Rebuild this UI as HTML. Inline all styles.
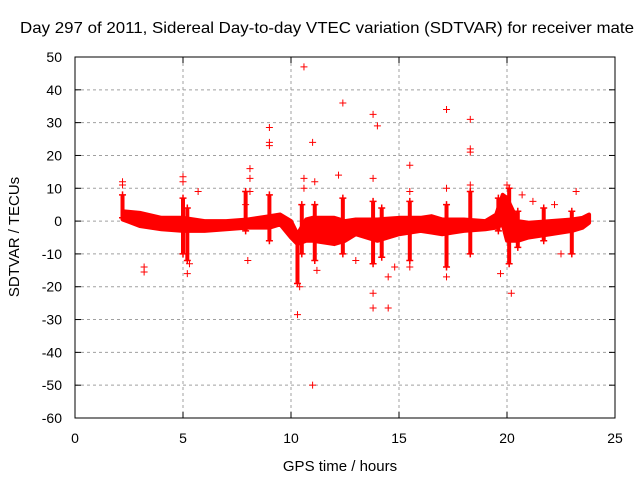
<!DOCTYPE html>
<html><head><meta charset="utf-8"><style>
body{margin:0;background:#fff;}
svg{display:block;font-family:"Liberation Sans",sans-serif;}
</style></head><body>
<svg id="c" width="640" height="480">
<rect width="640" height="480" fill="#fff"/>
<text x="20" y="33" font-size="16" textLength="614" lengthAdjust="spacingAndGlyphs">Day 297 of 2011, Sidereal Day-to-day VTEC variation (SDTVAR) for receiver mate</text>
<text x="340" y="471" font-size="15" text-anchor="middle">GPS time / hours</text>
<text x="19" y="237" font-size="15" text-anchor="middle" transform="rotate(-90 19 237)">SDTVAR / TECUs</text>
<g id="grid"></g><g id="marks"></g><g id="axes"></g>
</svg>
<script>
const xTicks=[0,5,10,15,20,25];
const yTicks=[50,40,30,20,10,0,-10,-20,-30,-40,-50,-60];
const bandT=[2.2,3,4,5,6,7,8,9,9.5,10,10.3,10.7,11,12,12.5,13,14,15,16,16.5,17,17.5,18,19,19.5,19.8,20,20.5,21,22,23,23.5,23.8];
const bandHi=[3,2.5,1,1,0,0,0.5,1.5,2,0,-4,0.5,1,1,0,0.5,0.5,1,1,1.5,0.5,0.5,0.5,0,2,8,7,0,-0.5,0,0.5,1,2];
const bandLo=[0.5,-1.5,-2.5,-3,-3,-2.5,-2,-2,-1,-5,-7,-6,-6,-7,-6,-4,-6,-4,-3,-3.5,-4,-3.5,-3,-2.5,-2,-1,-6,-6,-5,-4,-3,-2,-0.5];
const spikeT=[2.2,5,5.2,7.9,9,10.3,10.5,11.1,12.4,13.8,14.2,15.5,17.2,18.3,19.6,20.1,20.5,21.7,23];
const spikeLo=[1,-10,-12,-3,-6,-19,-10,-12,-10,-13,-11,-12,-14,-10,-3,-13,-8,-6,-10];
const spikeHi=[8,7,4,9,8,-5,5,5,7,6,4,6,5,9,7,10,3,4,3];
const outT=[2.2,2.2,3.2,3.2,5,5,5.2,5.3,5.7,7.9,8.1,8.1,8.1,8,9,9,9,10.3,10.4,10.6,10.6,10.6,11,11,11.1,11.2,12.4,12.2,13.8,14,13.8,13.8,13.8,14.5,14.5,15.5,15.5,17.2,17.2,17.2,18.3,18.3,18.3,18.3,19.7,20,20.2,20.7,21.2,22.2,23.2,22.5,13,14.8,15.5];
const outV=[12,11,-14,-15.5,13.5,12,-16,-13,9,5,16,13,9,-12,28.5,24,23,-28.5,-20,13,10,47,24,-50,12,-15,36,14,32.5,29,13,-22,-26.5,-26.5,-17,17,9,34,10,-17,31,22,21,11,-16,11,-22,8,6,5,9,-10,-12,-14,-14];
const X0=75,X1=615,Y0=418,Y1=57;
const sx=t=>X0+(t-0)/(25-0)*(X1-X0);
const sy=v=>Y0-(v+60)/(110)*(Y0-Y1);
const NS='http://www.w3.org/2000/svg';
function mk(tag,attrs,parent){const e=document.createElementNS(NS,tag);for(const k in attrs)e.setAttribute(k,attrs[k]);parent.appendChild(e);return e;}
const grid=document.getElementById('grid'),marks=document.getElementById('marks'),axes=document.getElementById('axes');
xTicks.forEach(t=>{
 if(t>0&&t<25){const l=mk('line',{x1:sx(t),x2:sx(t),y1:Y1,y2:Y0,stroke:'#a0a0a0','stroke-dasharray':'3,3'},grid);
 
 }
 const tx=mk('text',{x:sx(t),y:443,'font-size':14,'text-anchor':'middle'},axes);tx.textContent=t;
 
 
 mk('line',{x1:sx(t),x2:sx(t),y1:Y0,y2:Y0-6,stroke:'#000'},axes);
 mk('line',{x1:sx(t),x2:sx(t),y1:Y1,y2:Y1+6,stroke:'#000'},axes);
});
yTicks.forEach(v=>{
 if(v<50&&v>-60){const l=mk('line',{x1:X0,x2:X1,y1:sy(v),y2:sy(v),stroke:'#a0a0a0','stroke-dasharray':'3,3'},grid);
 
 }
 const tx=mk('text',{x:62,y:sy(v)+5,'font-size':14,'text-anchor':'end'},axes);tx.textContent=v;
 
 
 mk('line',{x1:X0,x2:X0+6,y1:sy(v),y2:sy(v),stroke:'#000'},axes);
 mk('line',{x1:X1,x2:X1-6,y1:sy(v),y2:sy(v),stroke:'#000'},axes);
});
const fr=mk('rect',{x:X0,y:Y1,width:X1-X0,height:Y0-Y1,fill:'none',stroke:'#000'},axes);


let d='';
bandT.forEach((t,i)=>{d+=(i?'L':'M')+sx(t)+','+sy(bandHi[i]);});
for(let i=bandT.length-1;i>=0;i--)d+='L'+sx(bandT[i])+','+sy(bandLo[i]);
const band=mk('path',{d:d+'Z',fill:'#ff0000',stroke:'#ff0000','stroke-width':4,'stroke-linejoin':'round'},marks);


spikeT.forEach((t,i)=>{
 const s=mk('line',{x1:sx(t),x2:sx(t),y1:sy(spikeLo[i]),y2:sy(spikeHi[i]),stroke:'#ff0000','stroke-width':4},marks);
 
 
 [spikeLo[i],spikeHi[i]].forEach(v=>{
  const x=sx(t),y=sy(v);
  const c=mk('path',{d:`M${x-3.5},${y}H${x+3.5}M${x},${y-3.5}V${y+3.5}`,stroke:'#ff0000','stroke-width':1.5},marks);
  
  
 });
});
outT.forEach((t,i)=>{
 const x=sx(t),y=sy(outV[i]);
 const p=mk('path',{d:`M${x-3.5},${y}H${x+3.5}M${x},${y-3.5}V${y+3.5}`,stroke:'#ff0000','stroke-width':1},marks);
 
 
});
</script>
</body></html>
